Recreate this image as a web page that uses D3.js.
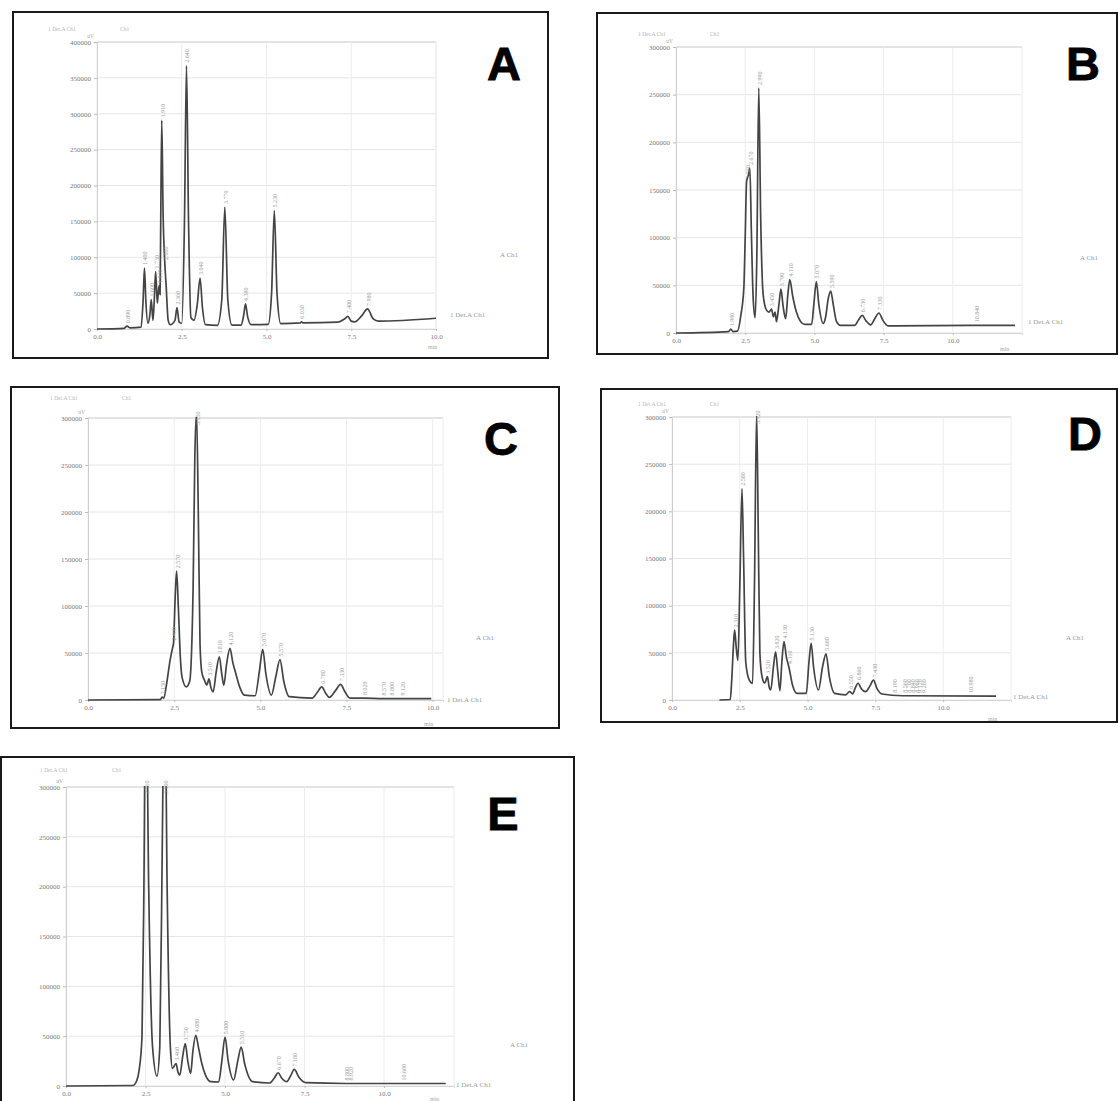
<!DOCTYPE html>
<html>
<head>
<meta charset="utf-8">
<script src="https://cdn.jsdelivr.net/npm/d3@7"></script>
<style>
  html, body { margin: 0; padding: 0; background: #fff; }
  svg { display: block; }
</style>
</head>
<body>
<svg id="chart" width="1118" height="1101"></svg>
<script>
// ---------------- DATA ----------------
// Panel A: retention time (min) and detector signal (uV)
const timeA = [0, 0.8, 0.89, 0.98, 1.30, 1.36, 1.40, 1.44, 1.50, 1.56, 1.60, 1.65, 1.69, 1.73, 1.78, 1.83, 1.86, 1.88, 1.91, 1.95, 2.00, 2.04, 2.10, 2.16, 2.30, 2.36, 2.42, 2.50, 2.58, 2.64, 2.70, 2.77, 2.86, 2.96, 3.04, 3.11, 3.20, 3.55, 3.68, 3.77, 3.86, 3.98, 4.25, 4.33, 4.38, 4.44, 4.55, 5.05, 5.15, 5.23, 5.31, 5.42, 6.00, 6.03, 6.08, 7.10, 7.30, 7.40, 7.50, 7.60, 7.80, 7.98, 8.15, 8.30, 10.0];
const signalA = [0, 1000, 4000, 1500, 2500, 40000, 85000, 40000, 8000, 20000, 41000, 12000, 40000, 80000, 36000, 60000, 48000, 150000, 291000, 160000, 92000, 60000, 12000, 6000, 12000, 30000, 10000, 8000, 150000, 367000, 150000, 16000, 12000, 35000, 71000, 30000, 6000, 5000, 40000, 170000, 40000, 5500, 5500, 20000, 35000, 18000, 6000, 6500, 50000, 165000, 50000, 7500, 8500, 10000, 8500, 9500, 14000, 17600, 11000, 10000, 18000, 28000, 14000, 11000, 15000];
const peaksA = [0.89, 1.40, 1.60, 1.73, 1.83, 1.91, 2.00, 2.36, 2.64, 3.04, 3.77, 4.38, 5.23, 6.03, 7.40, 7.98];

// Panel B
const timeB = [0, 1.90, 1.98, 2.06, 2.22, 2.35, 2.45, 2.50, 2.55, 2.61, 2.67, 2.72, 2.79, 2.86, 2.92, 2.99, 3.06, 3.15, 3.27, 3.36, 3.45, 3.52, 3.58, 3.63, 3.72, 3.79, 3.87, 3.96, 4.04, 4.11, 4.22, 4.35, 4.50, 4.65, 4.90, 4.98, 5.07, 5.16, 5.32, 5.40, 5.50, 5.59, 5.68, 5.80, 5.95, 6.45, 6.60, 6.73, 6.86, 7.03, 7.18, 7.33, 7.48, 7.66, 10.84, 12.25];
const signalB = [0, 1500, 4000, 1500, 2000, 20000, 47000, 100000, 159000, 165000, 173000, 110000, 35000, 16000, 80000, 257000, 120000, 40000, 24000, 22000, 25000, 17000, 22000, 12000, 30000, 46000, 28000, 15000, 40000, 56000, 38000, 22000, 12000, 9000, 9000, 30000, 54000, 30000, 10000, 16000, 36000, 44000, 30000, 12000, 8000, 8000, 14000, 18500, 13000, 8500, 15000, 21000, 13000, 7500, 8000, 8000];
const peaksB = [1.98, 2.55, 2.67, 2.99, 3.45, 3.79, 4.11, 5.07, 5.59, 6.73, 7.33, 10.84];

// Panel C
const timeC = [0, 2.10, 2.15, 2.20, 2.28, 2.38, 2.45, 2.48, 2.53, 2.57, 2.62, 2.68, 2.73, 2.85, 2.95, 3.05, 3.10, 3.15, 3.20, 3.25, 3.30, 3.38, 3.45, 3.51, 3.56, 3.63, 3.72, 3.81, 3.88, 3.94, 4.02, 4.12, 4.20, 4.29, 4.40, 4.54, 4.85, 4.97, 5.07, 5.16, 5.32, 5.45, 5.57, 5.68, 5.84, 6.50, 6.65, 6.78, 6.90, 7.00, 7.18, 7.33, 7.45, 7.60, 8.02, 8.57, 8.80, 9.12, 9.96];
const signalC = [0, 500, 3000, 2000, 17000, 42000, 55000, 60000, 110000, 137000, 100000, 45000, 24000, 14000, 20000, 120000, 260000, 305000, 200000, 60000, 30000, 21000, 16000, 22500, 14000, 8700, 30000, 46000, 28000, 15600, 38000, 55000, 40000, 28000, 14000, 5200, 4500, 30000, 54000, 28000, 5200, 25000, 43000, 20000, 3500, 2000, 8000, 14000, 7000, 2800, 10000, 16700, 9000, 2000, 2000, 1500, 1500, 1500, 1500];
const peaksC = [2.15, 2.48, 2.57, 3.15, 3.51, 3.81, 4.12, 5.07, 5.57, 6.78, 7.33, 8.02, 8.57, 8.80, 9.12];

// Panel D
const timeD = [1.75, 2.15, 2.20, 2.27, 2.31, 2.37, 2.43, 2.50, 2.58, 2.64, 2.72, 2.85, 2.97, 3.04, 3.12, 3.18, 3.24, 3.32, 3.42, 3.52, 3.58, 3.64, 3.74, 3.82, 3.90, 3.98, 4.05, 4.13, 4.22, 4.31, 4.45, 4.61, 4.95, 5.05, 5.13, 5.22, 5.40, 5.55, 5.68, 5.80, 6.00, 6.40, 6.55, 6.66, 6.76, 6.86, 6.98, 7.14, 7.30, 7.43, 7.56, 7.74, 8.50, 11.95];
const signalD = [0, 500, 20000, 60000, 74000, 55000, 42000, 120000, 224000, 150000, 40000, 21000, 17600, 120000, 305000, 180000, 50000, 24700, 18000, 24700, 14000, 10600, 35000, 51000, 30000, 9900, 40000, 62000, 45000, 35000, 15000, 7000, 7000, 40000, 60000, 35000, 10600, 35000, 49000, 25000, 7000, 5500, 8800, 6500, 13000, 18000, 12000, 8800, 15000, 21000, 12000, 6400, 4500, 4200];
const peaksD = [2.31, 2.58, 3.12, 3.52, 3.82, 4.13, 4.31, 5.13, 5.68, 6.55, 6.86, 7.43, 8.19, 8.56, 8.70, 8.84, 8.98, 9.12, 9.26, 10.98];

// Panel E
const timeE = [0, 2.10, 2.22, 2.30, 2.39, 2.45, 2.51, 2.60, 2.72, 2.86, 2.95, 3.03, 3.10, 3.18, 3.28, 3.35, 3.46, 3.52, 3.58, 3.67, 3.75, 3.83, 3.92, 3.99, 4.08, 4.17, 4.26, 4.40, 4.56, 4.80, 4.90, 5.00, 5.10, 5.27, 5.40, 5.51, 5.62, 5.87, 6.40, 6.55, 6.67, 6.78, 6.94, 7.06, 7.18, 7.32, 7.54, 8.80, 10.60, 11.94];
const signalE = [0, 500, 5000, 16000, 50000, 200000, 430000, 200000, 40000, 10000, 40000, 250000, 430000, 200000, 40000, 17600, 22600, 14000, 11000, 30000, 42500, 25000, 12600, 35000, 50800, 38000, 24000, 10000, 4300, 4000, 25000, 49000, 25000, 6000, 25000, 39000, 22000, 4300, 3000, 8000, 13300, 8000, 4300, 10000, 16600, 9000, 3300, 2500, 2500, 2500];
const peaksE = [2.51, 3.10, 3.46, 3.75, 4.08, 5.00, 5.51, 6.67, 7.18, 8.80, 8.92, 10.60];

// Axis ticks
const yTicksA = [0, 50000, 100000, 150000, 200000, 250000, 300000, 350000, 400000];
const yTicks300 = [0, 50000, 100000, 150000, 200000, 250000, 300000];
const xTicks = [0, 2.5, 5, 7.5, 10];
const xTickLabels = ["0.0", "2.5", "5.0", "7.5", "10.0"];

// Texts
const letters = ["A", "B", "C", "D", "E"];
const channelLabel = "A Ch1";
const traceLabel = "1 Det.A Ch1";
const unitLabel = "uV";
const timeUnit = "min";
const headerLeft = "1 Det.A Ch1";
const headerRight = "Ch1";

// ---------------- LAYOUT ----------------
const layout = [
  { box: [13, 12, 535, 346], x0: 97, x1: 436, y0: 329, y1: 42, xMax: 10, yMax: 400000,
    letter: [504, 80], chan: [500, 257], trace: [450, 317], unit: [428, 349], head: [48, 31] },
  { box: [597, 13, 520, 341], x0: 676, x1: 1022, y0: 333, y1: 47, xMax: 12.5, yMax: 300000,
    letter: [1083, 80], chan: [1080, 260], trace: [1028, 324], unit: [1000, 351], head: [638, 36] },
  { box: [11, 387, 548, 341], x0: 88, x1: 443, y0: 700, y1: 418, xMax: 10.3, yMax: 300000,
    letter: [501, 455], chan: [476, 640], trace: [447, 702], unit: [424, 726], head: [50, 400] },
  { box: [601, 389, 516, 333], x0: 672, x1: 1011, y0: 700, y1: 417, xMax: 12.5, yMax: 300000,
    letter: [1085, 450], chan: [1066, 640], trace: [1013, 699], unit: [988, 721], head: [638, 406] },
  { box: [1, 757, 573, 360], x0: 66, x1: 454, y0: 1086, y1: 787, xMax: 12.2, yMax: 300000,
    letter: [503, 830], chan: [510, 1047], trace: [456, 1087], unit: [430, 1101], head: [40, 772] }
];

const series = [
  { time: timeA, signal: signalA, peaks: peaksA, yTicks: yTicksA },
  { time: timeB, signal: signalB, peaks: peaksB, yTicks: yTicks300 },
  { time: timeC, signal: signalC, peaks: peaksC, yTicks: yTicks300 },
  { time: timeD, signal: signalD, peaks: peaksD, yTicks: yTicks300 },
  { time: timeE, signal: signalE, peaks: peaksE, yTicks: yTicks300 }
];

// ---------------- DRAW ----------------
const svg = d3.select("#chart");
svg.append("rect").attr("width", 1118).attr("height", 1101).attr("fill", "#fff");
const defs = svg.append("defs");

series.forEach((s, i) => {
  const L = layout[i];
  const g = svg.append("g");

  const x = d3.scaleLinear().domain([0, L.xMax]).range([L.x0, L.x1]);
  const y = d3.scaleLinear().domain([0, L.yMax]).range([L.y0, L.y1]);

  // frame
  g.append("rect")
    .attr("x", L.box[0]).attr("y", L.box[1])
    .attr("width", L.box[2]).attr("height", L.box[3])
    .attr("fill", "none").attr("stroke", "#1a1a1a").attr("stroke-width", 2);

  // grid
  const vLines = xTicks.filter(t => t <= L.xMax).concat([L.xMax]);
  g.append("g").selectAll("line.h").data(s.yTicks).join("line")
    .attr("x1", L.x0).attr("x2", L.x1)
    .attr("y1", d => y(d)).attr("y2", d => y(d))
    .attr("stroke", d => d === L.yMax ? "#c8c8c8" : "#e6e6e6").attr("stroke-width", 1);
  g.append("g").selectAll("line.v").data(vLines).join("line")
    .attr("x1", d => x(d)).attr("x2", d => x(d))
    .attr("y1", L.y0).attr("y2", L.y1)
    .attr("stroke", "#ececec").attr("stroke-width", 1);

  // y axis
  const yAxis = d3.axisLeft(y).tickValues(s.yTicks).tickSize(3).tickPadding(3)
    .tickFormat(d3.format("d"));
  const ya = g.append("g").attr("transform", `translate(${L.x0},0)`).call(yAxis);
  ya.select(".domain").attr("stroke", "#cfcfcf");
  ya.selectAll(".tick line").attr("stroke", "#bbb");
  ya.selectAll("text").attr("fill", "#7a7a7a").attr("font-size", 7)
    .attr("font-family", "Liberation Serif, serif");

  // x axis
  const xAxis = d3.axisBottom(x).tickValues(xTicks).tickSize(2).tickPadding(3)
    .tickFormat((d, k) => xTickLabels[k]);
  const xa = g.append("g").attr("transform", `translate(0,${L.y0})`).call(xAxis);
  xa.select(".domain").attr("stroke", "#d5d5d5");
  xa.selectAll(".tick line").attr("stroke", "#bbb");
  xa.selectAll("text").attr("fill", "#7a7a7a").attr("font-size", 7)
    .attr("font-family", "Liberation Serif, serif");

  // trace (clipped to plot)
  const clipId = "clip" + i;
  defs.append("clipPath").attr("id", clipId).append("rect")
    .attr("x", L.x0).attr("y", L.y1 - 1).attr("width", L.x1 - L.x0 + 2).attr("height", L.y0 - L.y1 + 3);
  const pts = s.time.map((t, k) => [t, s.signal[k]]);
  const line = d3.line().x(d => x(d[0])).y(d => y(d[1])).curve(d3.curveMonotoneX);
  g.append("path").datum(pts)
    .attr("clip-path", `url(#${clipId})`)
    .attr("d", line)
    .attr("fill", "none").attr("stroke", "#444").attr("stroke-width", 1.7)
    .attr("stroke-linejoin", "round");

  // peak labels (retention times, rotated)
  const fmt = d3.format(".3f");
  s.peaks.forEach(p => {
    let best = 0;
    s.time.forEach((t, k) => { if (Math.abs(t - p) < Math.abs(s.time[best] - p)) best = k; });
    const v = s.signal[best];
    const px = x(p) + 3;
    const py = Math.max(y(v), L.y1 + 10) - 3;
    g.append("text")
      .attr("transform", `translate(${px},${py}) rotate(-90)`)
      .attr("font-size", 6).attr("font-family", "Liberation Serif, serif")
      .attr("fill", "#9a9a9a").text(fmt(p));
  });

  // text labels
  g.append("text").attr("x", L.letter[0]).attr("y", L.letter[1])
    .attr("text-anchor", "middle").attr("font-family", "Liberation Sans, Arial, sans-serif")
    .attr("font-weight", "bold").attr("font-size", 47).attr("fill", "#000")
    .attr("stroke", "#000").attr("stroke-width", 0.8).text(letters[i]);
  g.append("text").attr("x", L.chan[0]).attr("y", L.chan[1])
    .attr("font-size", 7).attr("font-family", "Liberation Serif, serif").attr("fill", "#999").text(channelLabel);
  g.append("text").attr("x", L.trace[0]).attr("y", L.trace[1])
    .attr("font-size", 7).attr("font-family", "Liberation Serif, serif").attr("fill", "#999").text(traceLabel);
  g.append("text").attr("x", L.unit[0]).attr("y", L.unit[1])
    .attr("font-size", 6).attr("font-family", "Liberation Serif, serif").attr("fill", "#aaa").text(timeUnit);
  g.append("text").attr("x", L.head[0]).attr("y", L.head[1])
    .attr("font-size", 5.5).attr("font-family", "Liberation Serif, serif").attr("fill", "#b5b5b5").text(headerLeft);
  g.append("text").attr("x", L.head[0] + 72).attr("y", L.head[1])
    .attr("font-size", 5.5).attr("font-family", "Liberation Serif, serif").attr("fill", "#b5b5b5").text(headerRight);
  g.append("text").attr("x", L.x0 - 3).attr("y", L.y1 - 4)
    .attr("text-anchor", "end").attr("font-size", 5.5).attr("font-family", "Liberation Serif, serif")
    .attr("fill", "#aaa").text(unitLabel);
});
</script>
</body>
</html>
